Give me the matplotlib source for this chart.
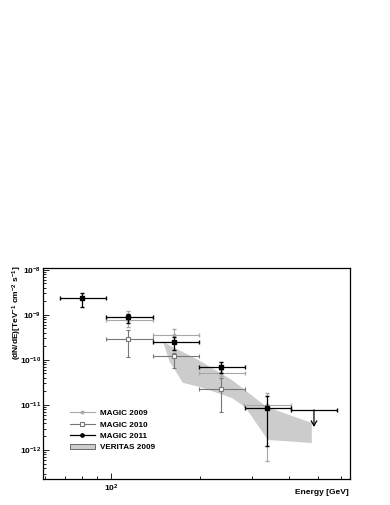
# Spectral points of MAGIC 2009/2010/2011 and VERITAS 2009 band

import matplotlib
matplotlib.use('Agg')
import matplotlib.pyplot as plt
from matplotlib.lines import Line2D
from matplotlib.patches import Patch
from matplotlib.ticker import NullFormatter
import numpy as np

# MAGIC 2011 (black, filled)
m11_e = [80, 114, 163, 235, 336]
m11_elo = [67.3, 96, 139, 198, 284]
m11_ehi = [96, 139, 198, 284, 405]
m11_f = [2.4e-9, 8.8e-10, 2.5e-10, 7.0e-11, 8.6e-12]
m11_fhi = [3.1e-9, 1.05e-9, 3.3e-10, 8.9e-11, 1.58e-11]
m11_flo = [1.5e-9, 6.6e-10, 1.7e-10, 5.1e-11, 1.23e-12]

# MAGIC 2011 upper limit
ul_e = [485]
ul_elo = [405]
ul_ehi = [581]
ul_f = [7.8e-12]

# MAGIC 2010 (grey, open squares)
m10_e = [114, 163, 235]
m10_elo = [96, 139, 198]
m10_ehi = [139, 198, 284]
m10_f = [2.9e-10, 1.2e-10, 2.27e-11]
m10_fhi = [4.6e-10, 1.43e-10, 4.0e-11]
m10_flo = [1.15e-10, 6.6e-11, 6.9e-12]

# MAGIC 2009 (light grey)
m09_e = [114, 163, 235, 336]
m09_elo = [96, 139, 198, 281]
m09_ehi = [139, 198, 284, 405]
m09_f = [7.8e-10, 3.6e-10, 5.1e-11, 1.0e-11]
m09_fhi = [1.23e-9, 4.9e-10, 6.0e-11, 1.85e-11]
m09_flo = [5.5e-10, 2.7e-10, 4.3e-11, 5.7e-13]

# VERITAS 2009 band (upper edge and lower edge)
ver_e_up = [150, 200, 256, 336, 477]
ver_f_up = [2.51e-10, 9.5e-11, 3.6e-11, 9.0e-12, 4.0e-12]
ver_e_lo = [158, 175, 200, 256, 284, 339, 477]
ver_f_lo = [9.0e-11, 3.1e-11, 2.5e-11, 1.43e-11, 9.0e-12, 1.67e-12, 1.43e-12]

labels = ['MAGIC 2009', 'MAGIC 2010', 'MAGIC 2011', 'VERITAS 2009']
x_major = [100]

C11 = 'black'
C10 = '#777777'
C09 = '#a8a8a8'
CBAND = '#cccccc'


def errs(c, lo, hi):
    c = np.array(c)
    return [c - np.array(lo), np.array(hi) - c]


def main():
    plt.rcParams['font.family'] = ['Liberation Sans', 'DejaVu Sans']
    plt.rcParams['font.weight'] = 'bold'
    plt.rcParams['mathtext.fontset'] = 'custom'
    plt.rcParams['mathtext.rm'] = 'Liberation Sans:bold'
    plt.rcParams['mathtext.bf'] = 'Liberation Sans:bold'
    plt.rcParams['mathtext.default'] = 'bf'

    fig = plt.figure(figsize=(3.9, 5.05), dpi=100)
    ax = fig.add_axes([0.110, 0.0515, 0.787, 0.4178])

    # band
    be = list(ver_e_up) + list(ver_e_lo[::-1])
    bf = list(ver_f_up) + list(ver_f_lo[::-1])
    ax.fill(be, bf, color=CBAND, lw=0, zorder=1)

    ax.errorbar(m09_e, m09_f, xerr=errs(m09_e, m09_elo, m09_ehi),
                yerr=errs(m09_f, m09_flo, m09_fhi), fmt='o', ms=1.8,
                color=C09, ecolor=C09, elinewidth=0.8, capsize=1.2, zorder=2)
    ax.errorbar(m10_e, m10_f, xerr=errs(m10_e, m10_elo, m10_ehi),
                yerr=errs(m10_f, m10_flo, m10_fhi), fmt='s', ms=3.2,
                mfc='white', mec=C10, mew=0.8,
                color=C10, ecolor=C10, elinewidth=0.8, capsize=1.2, zorder=3)
    ax.errorbar(m11_e, m11_f, xerr=errs(m11_e, m11_elo, m11_ehi),
                yerr=errs(m11_f, m11_flo, m11_fhi), fmt='s', ms=2.2,
                color=C11, ecolor=C11, elinewidth=0.9, capsize=1.2, zorder=4)

    # upper limit
    ax.errorbar(ul_e, ul_f, xerr=errs(ul_e, ul_elo, ul_ehi), fmt='none',
                ecolor=C11, elinewidth=0.9, capsize=1.2, zorder=4)
    for e, f in zip(ul_e, ul_f):
        ax.annotate('', xy=(e, f / 2.4), xytext=(e, f),
                    arrowprops=dict(arrowstyle='->,head_length=0.35,head_width=0.2',
                                    color=C11, lw=0.9, shrinkA=0, shrinkB=0),
                    zorder=4)

    ax.set_xscale('log')
    ax.set_yscale('log')
    ax.set_xlim(58.9, 641)
    ax.set_ylim(2.27e-13, 1.1e-8)
    ax.set_xticks(x_major)
    ax.xaxis.set_minor_formatter(NullFormatter())

    for s in ax.spines.values():
        s.set_linewidth(0.9)
    ax.tick_params(which='both', direction='in', top=False, right=False,
                   labelsize=6, width=0.6)
    ax.tick_params(which='major', length=4.5)
    ax.tick_params(which='minor', length=2.5)
    ax.tick_params(axis='y', pad=1.5)
    ax.tick_params(axis='x', pad=3)

    # legend
    handles = [
        Line2D([], [], color=C09, marker='o', ms=1.8, lw=0.8),
        Line2D([], [], color=C10, marker='s', ms=3.2, mfc='white', mew=0.8, lw=0.8),
        Line2D([], [], color=C11, marker='o', ms=2.4, lw=0.9),
        Patch(facecolor=CBAND, edgecolor='#555555', lw=0.6),
    ]
    ax.legend(handles, labels, loc='upper left', bbox_to_anchor=(0.088, 0.33),
              frameon=False, fontsize=5.9, handlelength=3.05, handletextpad=0.6,
              labelspacing=0.45, borderpad=0, borderaxespad=0)

    fig.text(17 / 390, 1 - 265 / 505,
             r'(dN/dE)[TeV$^{-1}$ cm$^{-2}$ s$^{-1}$]',
             rotation=90, ha='center', va='top', fontsize=6)
    fig.text(349 / 390, 1 - 493 / 505, 'Energy [GeV]', ha='right',
             va='center', fontsize=6)

    fig.savefig('out.png', dpi=100)


if __name__ == "__main__":
    main()
